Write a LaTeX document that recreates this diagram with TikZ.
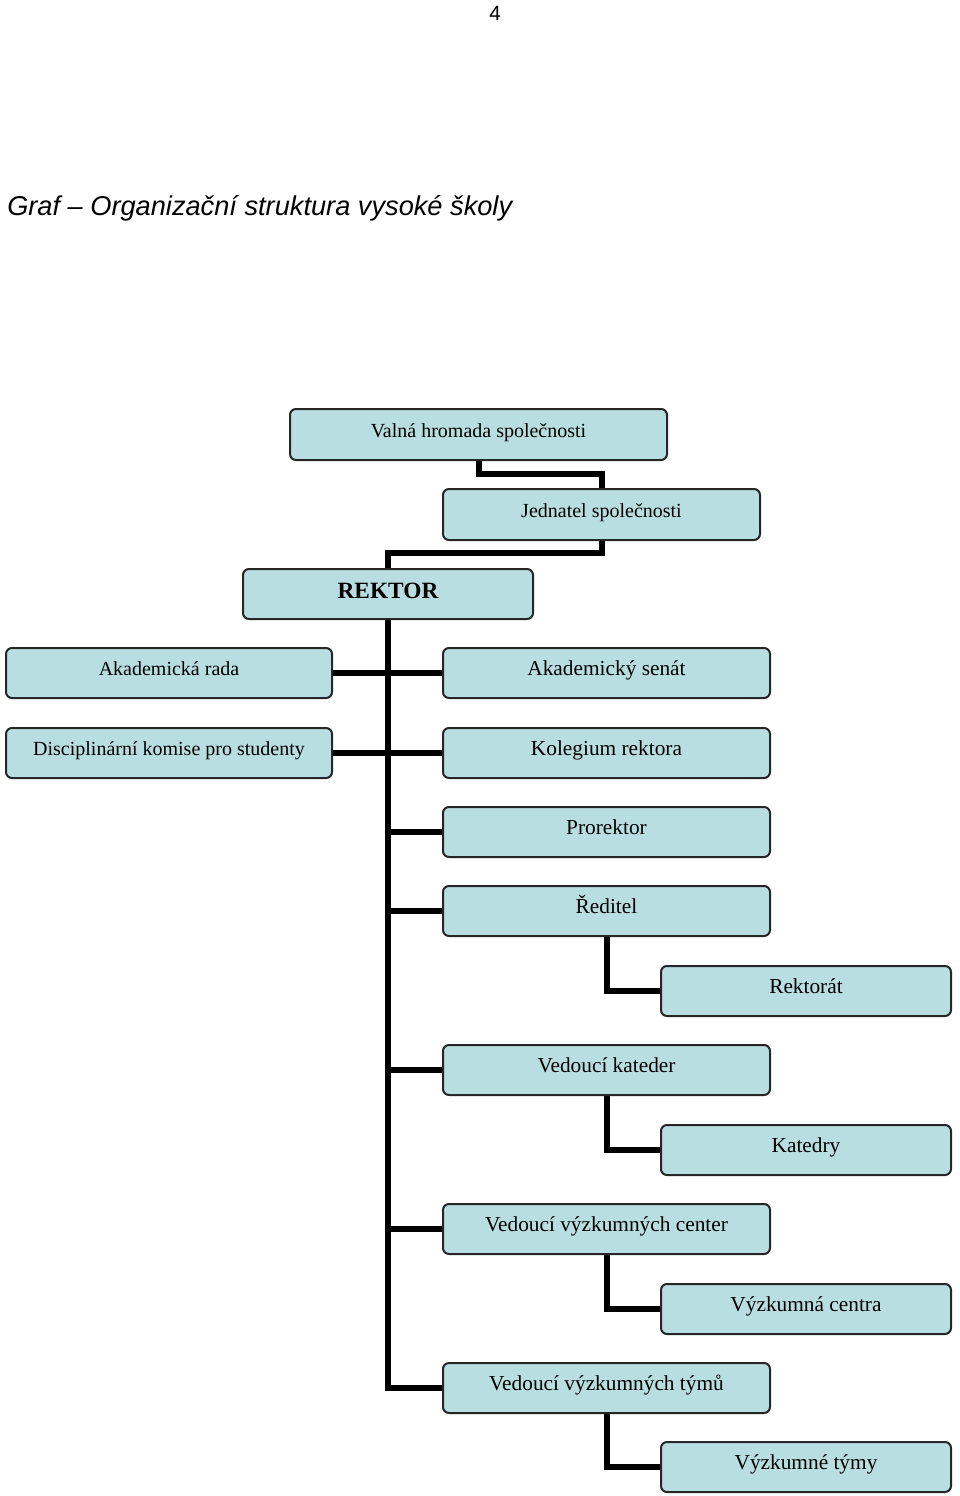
\documentclass[tikz,border=0pt]{standalone}
\usepackage{fontspec}
\usetikzlibrary{backgrounds}
\setmainfont{Liberation Serif}
\newfontfamily\arialf{Liberation Sans}
\begin{document}
\begin{tikzpicture}[x=0.75pt,y=-0.75pt,
  orgbox/.style={draw=black!85, line width=1.5pt, fill=boxfill, rounded corners=4.5pt,
    minimum height=37.5pt, inner sep=0pt, text height=10pt, text depth=6pt,
    font=\fontsize{15pt}{17pt}\selectfont},
  bigtext/.style={font=\fontsize{16pt}{18pt}\selectfont},
  wbox/.style={orgbox, bigtext, minimum width=245.25pt},
  rbox/.style={orgbox, bigtext, minimum width=217.5pt},
  lbox/.style={orgbox, minimum width=244.5pt},
  conn/.style={line width=4.5pt, black}]
\definecolor{boxfill}{HTML}{B9DEE1}
\useasboundingbox (0,0) rectangle (960,1496);

% page number and title
\node[font=\arialf\fontsize{15.5pt}{17pt}\selectfont, anchor=base] (pagenum) at (495,20) {4};
\node[font=\arialf\itshape\fontsize{20.4pt}{22pt}\selectfont, anchor=base west, inner sep=0pt] (title) at (7,215) {Graf – Organizační struktura vysoké školy};

% coordinates for connector bends
\coordinate (b1) at (540,474);
\coordinate (b2) at (495,553);

\node[orgbox, minimum width=282.75pt, minimum height=38.25pt] (valna) at (478.5,434.5) {Valná hromada společnosti};
\node[orgbox, minimum width=237.75pt, minimum height=38.25pt] (jednatel) at (601.5,514.5) {Jednatel společnosti};
\node[orgbox, minimum width=217.5pt, text height=12pt, text depth=6pt, font=\bfseries\fontsize{17.5pt}{19pt}\selectfont] (rektor) at (388,594) {REKTOR};

\node[lbox] (akrada) at (169,673) {Akademická rada};
\node[wbox] (aksenat) at (606.5,673) {Akademický senát};
\node[lbox] (disc) at (169,753) {Disciplinární komise pro studenty};
\node[wbox] (kolegium) at (606.5,753) {Kolegium rektora};
\node[wbox] (prorektor) at (606.5,832) {Prorektor};
\node[wbox] (reditel) at (606.5,911) {Ředitel};
\node[rbox] (rektorat) at (806,991) {Rektorát};
\node[wbox] (vedkat) at (606.5,1070) {Vedoucí kateder};
\node[rbox] (katedry) at (806,1150) {Katedry};
\node[wbox] (vedvc) at (606.5,1229) {Vedoucí výzkumných center};
\node[rbox] (vcentra) at (806,1309) {Výzkumná centra};
\node[wbox] (vedvt) at (606.5,1388) {Vedoucí výzkumných týmů};
\node[rbox] (vtymy) at (806,1467) {Výzkumné týmy};

\begin{scope}[on background layer]
\draw[conn] (valna.south) |- (b1) -| (jednatel.north);
\draw[conn] (jednatel.south) |- (b2) -| (rektor.north);
\draw[conn] (rektor.south) |- (vedvt.west);
\draw[conn] (akrada.east) -- (aksenat.west);
\draw[conn] (disc.east) -- (kolegium.west);
\draw[conn] (rektor.south |- prorektor.west) -- (prorektor.west);
\draw[conn] (rektor.south |- reditel.west) -- (reditel.west);
\draw[conn] (rektor.south |- vedkat.west) -- (vedkat.west);
\draw[conn] (rektor.south |- vedvc.west) -- (vedvc.west);
\draw[conn] (reditel.south) |- (rektorat.west);
\draw[conn] (vedkat.south) |- (katedry.west);
\draw[conn] (vedvc.south) |- (vcentra.west);
\draw[conn] (vedvt.south) |- (vtymy.west);
\end{scope}
\end{tikzpicture}
\end{document}
